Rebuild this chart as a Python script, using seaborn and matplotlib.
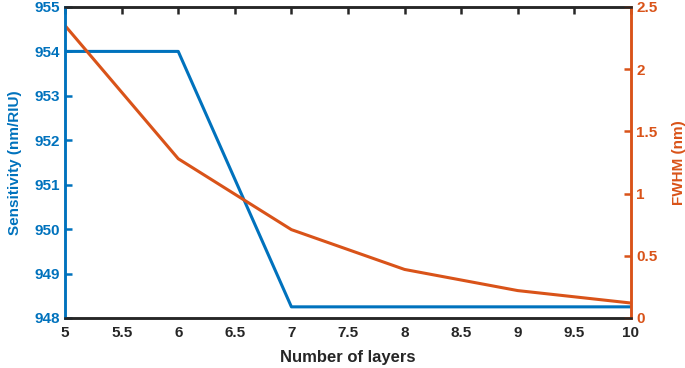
import numpy as np
import pandas as pd
import matplotlib
matplotlib.use('Agg')
import matplotlib.pyplot as plt
import seaborn as sns

# values
layers = [5, 6, 7, 8, 9, 10]
sensitivity = [954.0, 954.0, 948.25, 948.25, 948.25, 948.25]
fwhm = [2.35, 1.28, 0.71, 0.39, 0.22, 0.12]

blue = '#0072BD'
orange = '#D95319'

sns.set_style('white')
plt.rcParams['font.family'] = ['Liberation Sans', 'DejaVu Sans']
plt.rcParams['font.weight'] = 'bold'

df = pd.DataFrame({'layers': layers, 'sensitivity': sensitivity, 'fwhm': fwhm})

fig = plt.figure(figsize=(6.85, 3.68), dpi=100)
ax = fig.add_axes([0.095, 0.136, 0.826, 0.845])
ax2 = ax.twinx()

sns.lineplot(data=df, x='layers', y='sensitivity', ax=ax, color=blue, linewidth=2.2)
sns.lineplot(data=df, x='layers', y='fwhm', ax=ax2, color=orange, linewidth=2.2)

ax.set_xlim(5, 10)
ax.set_ylim(948, 955)
ax2.set_ylim(0, 2.5)
ax.set_xticks(np.arange(5, 10.01, 0.5))
ax.set_xticklabels(['5', '5.5', '6', '6.5', '7', '7.5', '8', '8.5', '9', '9.5', '10'])
ax.set_yticks(range(948, 956))
ax2.set_yticks([0, 0.5, 1, 1.5, 2, 2.5])
ax2.set_yticklabels(['0', '0.5', '1', '1.5', '2', '2.5'])

ax.set_xlabel('Number of layers', fontsize=12, fontweight='bold', color='#262626', labelpad=7)
ax.set_ylabel('Sensitivity (nm/RIU)', fontsize=11, fontweight='bold', color=blue, labelpad=9)
ax2.set_ylabel('FWHM (nm)', fontsize=11, fontweight='bold', color=orange, labelpad=10)

for a in (ax, ax2):
    for s in a.spines.values():
        s.set_linewidth(1.8)
        s.set_color('#262626')
    a.spines['left'].set_color(blue)
    a.spines['right'].set_color(orange)

ax.tick_params(axis='x', direction='in', top=True, length=5, width=1.8,
               labelsize=11, colors='#262626', pad=6)
ax.tick_params(axis='y', direction='in', length=5, width=1.8,
               labelsize=11, colors=blue, labelcolor=blue, pad=4)
ax2.tick_params(axis='y', direction='in', length=5, width=1.8,
                labelsize=11, colors=orange, labelcolor=orange, pad=4)
for lab in ax.get_xticklabels() + ax.get_yticklabels() + ax2.get_yticklabels():
    lab.set_fontweight('bold')

fig.savefig('out.png', dpi=100)
